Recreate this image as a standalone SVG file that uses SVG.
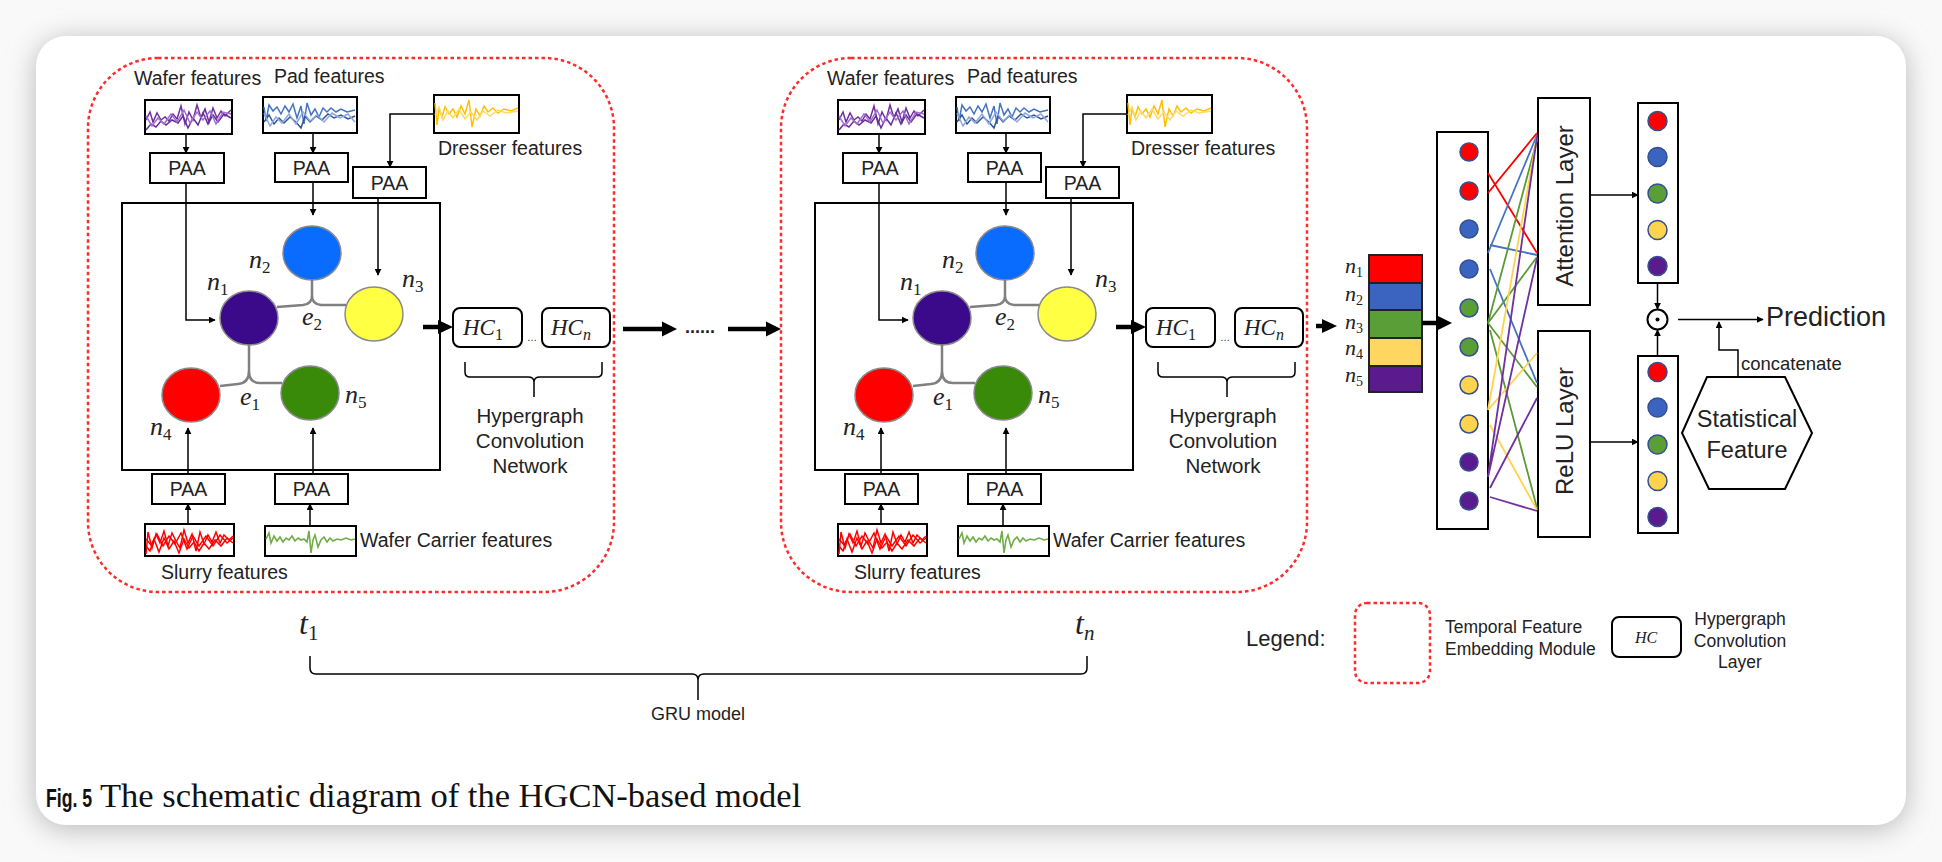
<svg xmlns="http://www.w3.org/2000/svg" width="1942" height="862" viewBox="0 0 1942 862">
<defs>
<style>
.lbl{font-family:"Liberation Sans",Arial,sans-serif;font-size:19.5px;fill:#222}
.box{fill:#fff;stroke:#000;stroke-width:2}
.frame{fill:none;stroke:#ff2a2a;stroke-width:2.5;stroke-dasharray:3.5 3}
.ln{fill:none;stroke:#000;stroke-width:1.5}
.he{fill:none;stroke:#808080;stroke-width:2.5}
.m{font-family:"Liberation Serif",serif;font-style:italic;font-size:26px;fill:#222}
.sub{font-size:17px;font-style:normal}
.subi{font-size:17px;font-style:italic}
.thk{stroke:#000;stroke-width:4.5}
.nd{stroke:#8a8a8a;stroke-width:1.5}
.dot{stroke:#34508f;stroke-width:1.5}
.cl{stroke-width:1.8;fill:none}
</style>
<marker id="ah" viewBox="0 0 10 10" refX="9" refY="5" markerWidth="7" markerHeight="7" markerUnits="userSpaceOnUse" orient="auto"><path d="M0,0 L10,5 L0,10 z" fill="#000"/></marker>
<filter id="sh" x="-5%" y="-8%" width="110%" height="116%"><feGaussianBlur stdDeviation="14"/></filter>
<g id="sp-wafer" fill="none" stroke-width="1.5">
<path stroke="#7030a0" d="M1,20 L5,12 L8,22 L12,13 L16,20 L20,17 L24,21 L28,14 L32,19 L36,6 L40,24 L44,12 L48,20 L52,5 L56,18 L60,9 L64,22 L68,8 L72,18 L76,11 L80,16 L86,10"/>
<path stroke="#6a2c9a" d="M1,30 L6,24 L11,27 L16,21 L21,25 L27,20 L33,23 L38,16 L43,28 L48,18 L53,25 L58,13 L63,24 L68,15 L73,22 L79,14 L86,18"/>
<path stroke="#a070d0" d="M1,16 L7,26 L13,18 L19,24 L26,14 L32,22 L39,10 L45,23 L52,12 L58,20 L65,11 L71,24 L78,12 L86,14"/>
</g>
<g id="sp-pad" fill="none" stroke-width="1.5">
<path stroke="#4472c4" d="M1,10 L3,24 L6,8 L10,14 L14,10 L18,17 L22,9 L26,15 L30,7 L34,21 L38,9 L41,27 L44,6 L48,18 L52,12 L56,20 L60,11 L64,15 L68,11 L73,15 L78,12 L84,15 L92,13"/>
<path stroke="#2f5597" d="M1,25 L6,18 L11,27 L16,21 L21,26 L27,20 L33,25 L38,31 L42,19 L47,25 L53,19 L59,23 L65,17 L71,21 L78,18 L85,22 L92,19"/>
<path stroke="#8fa9dc" d="M1,16 L7,29 L13,20 L19,26 L26,17 L33,27 L40,15 L47,24 L54,18 L61,25 L69,16 L77,21 L85,17 L92,25"/>
</g>
<g id="sp-dresser" fill="none" stroke-width="1.5">
<path stroke="#ffc000" d="M1,8 L3,30 L5,14 L8,22 L11,12 L15,19 L19,14 L23,22 L27,11 L31,19 L35,5 L38,32 L42,14 L46,21 L50,11 L54,17 L59,13 L64,18 L70,14 L77,16 L84,13"/>
<path stroke="#ffd966" d="M1,20 L5,12 L9,25 L14,16 L19,23 L25,14 L31,24 L37,17 L43,25 L49,16 L56,21 L64,15 L72,18 L84,16"/>
</g>
<g id="sp-slurry" fill="none" stroke="#ff0000" stroke-width="1.5">
<path d="M1,30 L3,8 L7,24 L11,10 L15,19 L19,7 L23,22 L27,9 L31,17 L35,24 L39,6 L43,19 L47,10 L51,27 L55,8 L59,20 L63,11 L67,18 L71,8 L75,19 L79,11 L84,16 L88,12"/>
<path d="M1,22 L5,27 L9,15 L14,28 L19,14 L24,25 L29,17 L34,29 L39,15 L44,24 L49,18 L54,27 L59,19 L64,25 L70,16 L76,22 L82,14 L88,19"/>
<path d="M1,15 L6,21 L12,10 L18,22 L24,12 L30,20 L36,9 L42,25 L48,12 L54,22 L61,12 L68,22 L75,11 L82,19 L88,14"/>
</g>
<g id="sp-carrier" fill="none" stroke="#70ad47" stroke-width="1.6">
<path d="M1,13 L4,7 L6,17 L9,10 L12,15 L15,11 L18,16 L21,12 L24,14 L27,10 L30,15 L33,12 L36,14 L39,13 L42,16 L44,5 L46,27 L48,14 L50,9 L53,21 L56,14 L59,11 L62,16 L65,12 L68,15 L72,13 L76,14 L81,12 L86,14 L90,13"/>
</g>
</defs>

<rect x="0" y="0" width="1942" height="862" fill="#f9f9f9"/>
<rect x="36" y="40" width="1870" height="789" rx="30" fill="#b8b8b8" filter="url(#sh)"/>
<rect id="card" x="36" y="36" width="1870" height="789" rx="30" fill="#fff"/>

<!-- ===== Module 1 ===== -->
<g id="module1">
<rect id="frame1" class="frame" x="88" y="58" width="526" height="534" rx="70" ry="70"/>
<g id="m1-main"><rect class="box" x="122" y="203" width="318" height="267" style="fill:none"/></g>
<g id="m1-wafer"><rect class="box" x="145" y="100" width="87" height="34"/><use href="#sp-wafer" x="145" y="100"/><text class="lbl" x="134" y="85">Wafer features</text></g>
<g id="m1-pad"><rect class="box" x="263" y="97" width="94" height="36"/><use href="#sp-pad" x="263" y="97"/><text class="lbl" x="274" y="83">Pad features</text></g>
<g id="m1-dresser"><rect class="box" x="434" y="95" width="85" height="38"/><use href="#sp-dresser" x="434" y="95"/><text class="lbl" x="438" y="155">Dresser features</text></g>
<g id="m1-slurry"><rect class="box" x="145" y="524" width="89" height="32"/><use href="#sp-slurry" x="145" y="524"/><text class="lbl" x="161" y="579">Slurry features</text></g>
<g id="m1-carrier"><rect class="box" x="265" y="526" width="91" height="30"/><use href="#sp-carrier" x="265" y="526"/><text class="lbl" x="360" y="547">Wafer Carrier features</text></g>
<g id="m1-paa1"><rect class="box" x="150" y="153" width="74" height="30"/><text class="lbl" x="187" y="175" text-anchor="middle">PAA</text></g>
<g id="m1-paa2"><rect class="box" x="275" y="153" width="73" height="29"/><text class="lbl" x="311.5" y="175" text-anchor="middle">PAA</text></g>
<g id="m1-paa3"><rect class="box" x="353" y="167" width="73" height="31"/><text class="lbl" x="389.5" y="190" text-anchor="middle">PAA</text></g>
<g id="m1-paa4"><rect class="box" x="152" y="474" width="73" height="30"/><text class="lbl" x="188.5" y="496" text-anchor="middle">PAA</text></g>
<g id="m1-paa5"><rect class="box" x="275" y="474" width="73" height="30"/><text class="lbl" x="311.5" y="496" text-anchor="middle">PAA</text></g>
<g id="m1-n1"><ellipse class="nd" cx="249" cy="318" rx="29" ry="27" fill="#3a0a8a"/><text class="m" x="207" y="290">n<tspan class="sub" dy="5">1</tspan></text></g>
<g id="m1-n2"><ellipse class="nd" cx="312" cy="253" rx="29" ry="27" fill="#0a6cff"/><text class="m" x="249" y="268">n<tspan class="sub" dy="5">2</tspan></text></g>
<g id="m1-n3"><ellipse class="nd" cx="374" cy="314" rx="29" ry="27" fill="#ffff44" stroke="#b5b5b5"/><text class="m" x="402" y="287">n<tspan class="sub" dy="5">3</tspan></text></g>
<g id="m1-n4"><ellipse class="nd" cx="191" cy="395" rx="29" ry="27" fill="#ff0000"/><text class="m" x="150" y="435">n<tspan class="sub" dy="5">4</tspan></text></g>
<g id="m1-n5"><ellipse class="nd" cx="310" cy="393" rx="29" ry="27" fill="#3a8a0a"/><text class="m" x="345" y="403">n<tspan class="sub" dy="5">5</tspan></text></g>
<g id="m1-e2"><text class="m" x="302" y="325">e<tspan class="sub" dy="5">2</tspan></text></g>
<g id="m1-e1"><text class="m" x="240" y="405">e<tspan class="sub" dy="5">1</tspan></text></g>
<g id="m1-hc1"><rect class="box" x="453" y="308" width="69" height="39" rx="7"/><text class="m" x="463" y="335" style="font-size:23px">HC<tspan class="sub" dy="5" style="font-size:16px">1</tspan></text></g>
<g id="m1-hcn"><rect class="box" x="542" y="308" width="68" height="39" rx="7"/><text class="m" x="551" y="335" style="font-size:23px">HC<tspan class="subi" dy="5" style="font-size:16px">n</tspan></text></g>
<text class="lbl" x="532" y="341" text-anchor="middle" style="font-size:10px">…</text>
<g id="m1-hcn-label"><text class="lbl" text-anchor="middle" style="font-size:20.5px"><tspan x="530" y="423">Hypergraph</tspan><tspan x="530" y="448">Convolution</tspan><tspan x="530" y="473">Network</tspan></text></g>
</g>

<!-- ===== Module 2 ===== -->
<g id="module2">
<rect id="frame2" class="frame" x="781" y="58" width="526" height="534" rx="70" ry="70"/>
<g id="m2-main"><rect class="box" x="815" y="203" width="318" height="267" style="fill:none"/></g>
<g id="m2-wafer"><rect class="box" x="838" y="100" width="87" height="34"/><use href="#sp-wafer" x="838" y="100"/><text class="lbl" x="827" y="85">Wafer features</text></g>
<g id="m2-pad"><rect class="box" x="956" y="97" width="94" height="36"/><use href="#sp-pad" x="956" y="97"/><text class="lbl" x="967" y="83">Pad features</text></g>
<g id="m2-dresser"><rect class="box" x="1127" y="95" width="85" height="38"/><use href="#sp-dresser" x="1127" y="95"/><text class="lbl" x="1131" y="155">Dresser features</text></g>
<g id="m2-slurry"><rect class="box" x="838" y="524" width="89" height="32"/><use href="#sp-slurry" x="838" y="524"/><text class="lbl" x="854" y="579">Slurry features</text></g>
<g id="m2-carrier"><rect class="box" x="958" y="526" width="91" height="30"/><use href="#sp-carrier" x="958" y="526"/><text class="lbl" x="1053" y="547">Wafer Carrier features</text></g>
<g id="m2-paa1"><rect class="box" x="843" y="153" width="74" height="30"/><text class="lbl" x="880" y="175" text-anchor="middle">PAA</text></g>
<g id="m2-paa2"><rect class="box" x="968" y="153" width="73" height="29"/><text class="lbl" x="1004.5" y="175" text-anchor="middle">PAA</text></g>
<g id="m2-paa3"><rect class="box" x="1046" y="167" width="73" height="31"/><text class="lbl" x="1082.5" y="190" text-anchor="middle">PAA</text></g>
<g id="m2-paa4"><rect class="box" x="845" y="474" width="73" height="30"/><text class="lbl" x="881.5" y="496" text-anchor="middle">PAA</text></g>
<g id="m2-paa5"><rect class="box" x="968" y="474" width="73" height="30"/><text class="lbl" x="1004.5" y="496" text-anchor="middle">PAA</text></g>
<g id="m2-n1"><ellipse class="nd" cx="942" cy="318" rx="29" ry="27" fill="#3a0a8a"/><text class="m" x="900" y="290">n<tspan class="sub" dy="5">1</tspan></text></g>
<g id="m2-n2"><ellipse class="nd" cx="1005" cy="253" rx="29" ry="27" fill="#0a6cff"/><text class="m" x="942" y="268">n<tspan class="sub" dy="5">2</tspan></text></g>
<g id="m2-n3"><ellipse class="nd" cx="1067" cy="314" rx="29" ry="27" fill="#ffff44" stroke="#b5b5b5"/><text class="m" x="1095" y="287">n<tspan class="sub" dy="5">3</tspan></text></g>
<g id="m2-n4"><ellipse class="nd" cx="884" cy="395" rx="29" ry="27" fill="#ff0000"/><text class="m" x="843" y="435">n<tspan class="sub" dy="5">4</tspan></text></g>
<g id="m2-n5"><ellipse class="nd" cx="1003" cy="393" rx="29" ry="27" fill="#3a8a0a"/><text class="m" x="1038" y="403">n<tspan class="sub" dy="5">5</tspan></text></g>
<g id="m2-e2"><text class="m" x="995" y="325">e<tspan class="sub" dy="5">2</tspan></text></g>
<g id="m2-e1"><text class="m" x="933" y="405">e<tspan class="sub" dy="5">1</tspan></text></g>
<g id="m2-hc1"><rect class="box" x="1146" y="308" width="69" height="39" rx="7"/><text class="m" x="1156" y="335" style="font-size:23px">HC<tspan class="sub" dy="5" style="font-size:16px">1</tspan></text></g>
<g id="m2-hcn"><rect class="box" x="1235" y="308" width="68" height="39" rx="7"/><text class="m" x="1244" y="335" style="font-size:23px">HC<tspan class="subi" dy="5" style="font-size:16px">n</tspan></text></g>
<text class="lbl" x="1225" y="341" text-anchor="middle" style="font-size:10px">…</text>
<g id="m2-hcn-label"><text class="lbl" text-anchor="middle" style="font-size:20.5px"><tspan x="1223" y="423">Hypergraph</tspan><tspan x="1223" y="448">Convolution</tspan><tspan x="1223" y="473">Network</tspan></text></g>
</g>

<g id="between-dots"><text class="lbl" x="685" y="333" style="font-size:18px;font-weight:bold">......</text></g>

<!-- ===== Right part ===== -->
<g id="input-vector">
<rect x="1369" y="255" width="53" height="28" fill="#ff0000" stroke="#222" stroke-width="2"/>
<rect x="1369" y="283" width="53" height="27" fill="#3b64c0" stroke="#222" stroke-width="2"/>
<rect x="1369" y="310" width="53" height="28" fill="#5a9e38" stroke="#222" stroke-width="2"/>
<rect x="1369" y="338" width="53" height="28" fill="#ffd660" stroke="#222" stroke-width="2"/>
<rect x="1369" y="366" width="53" height="26" fill="#5b1a8e" stroke="#222" stroke-width="2"/>
<text class="m" x="1345" y="273" style="font-size:22px">n<tspan class="sub" dy="4" style="font-size:14px">1</tspan></text>
<text class="m" x="1345" y="301" style="font-size:22px">n<tspan class="sub" dy="4" style="font-size:14px">2</tspan></text>
<text class="m" x="1345" y="329" style="font-size:22px">n<tspan class="sub" dy="4" style="font-size:14px">3</tspan></text>
<text class="m" x="1345" y="355" style="font-size:22px">n<tspan class="sub" dy="4" style="font-size:14px">4</tspan></text>
<text class="m" x="1345" y="382" style="font-size:22px">n<tspan class="sub" dy="4" style="font-size:14px">5</tspan></text>
</g>
<g id="hidden-column">
<rect class="box" x="1437" y="132" width="51" height="397"/>
<circle class="dot" cx="1469" cy="152" r="9" fill="#ff0000"/>
<circle class="dot" cx="1469" cy="191" r="9" fill="#ff0000"/>
<circle class="dot" cx="1469" cy="229" r="9" fill="#3b64c0"/>
<circle class="dot" cx="1469" cy="269" r="9" fill="#3b64c0"/>
<circle class="dot" cx="1469" cy="308" r="9" fill="#5a9e38"/>
<circle class="dot" cx="1469" cy="347" r="9" fill="#5a9e38"/>
<circle class="dot" cx="1469" cy="385" r="9" fill="#ffd34d"/>
<circle class="dot" cx="1469" cy="424" r="9" fill="#ffd34d"/>
<circle class="dot" cx="1469" cy="462" r="9" fill="#5b1a8e"/>
<circle class="dot" cx="1469" cy="501" r="9" fill="#5b1a8e"/>
</g>
<g id="attention-layer"><rect class="box" x="1538" y="98" width="52" height="207"/><text class="lbl" transform="translate(1573,206) rotate(-90)" text-anchor="middle" style="font-size:24px">Attention Layer</text></g>
<g id="relu-layer"><rect class="box" x="1538" y="331" width="52" height="206"/><text class="lbl" transform="translate(1573,431) rotate(-90)" text-anchor="middle" style="font-size:24px">ReLU Layer</text></g>
<g id="att-output">
<rect class="box" x="1638" y="103" width="40" height="180"/>
<circle class="dot" cx="1657.5" cy="121" r="9.5" fill="#ff0000"/>
<circle class="dot" cx="1657.5" cy="157" r="9.5" fill="#3b64c0"/>
<circle class="dot" cx="1657.5" cy="193.5" r="9.5" fill="#5a9e38"/>
<circle class="dot" cx="1657.5" cy="230" r="9.5" fill="#ffd34d"/>
<circle class="dot" cx="1657.5" cy="266" r="9.5" fill="#5b1a8e"/>
</g>
<g id="relu-output">
<rect class="box" x="1638" y="356" width="40" height="177"/>
<circle class="dot" cx="1657.5" cy="372" r="9.5" fill="#ff0000"/>
<circle class="dot" cx="1657.5" cy="407.5" r="9.5" fill="#3b64c0"/>
<circle class="dot" cx="1657.5" cy="444.5" r="9.5" fill="#5a9e38"/>
<circle class="dot" cx="1657.5" cy="481" r="9.5" fill="#ffd34d"/>
<circle class="dot" cx="1657.5" cy="517" r="9.5" fill="#5b1a8e"/>
</g>
<g id="odot"><circle cx="1657.5" cy="319.5" r="10" fill="#fff" stroke="#000" stroke-width="2"/><circle cx="1657.5" cy="319.5" r="2" fill="#000"/></g>
<g id="prediction"><text class="lbl" x="1766" y="326" style="font-size:27px">Prediction</text></g>
<g id="statistical-feature"><polygon points="1707,377 1785,377 1812,433 1785,489 1709,489 1682,433" fill="#fff" stroke="#000" stroke-width="2"/><text class="lbl" text-anchor="middle" style="font-size:23.5px"><tspan x="1747" y="427">Statistical</tspan><tspan x="1747" y="458">Feature</tspan></text></g>
<g id="concat-label"><text class="lbl" x="1741" y="370" style="font-size:18.5px">concatenate</text></g>

<!-- ===== Legend ===== -->
<g id="legend">
<text class="lbl" x="1246" y="646" style="font-size:22px">Legend:</text>
<rect class="frame" x="1355" y="603" width="75" height="80" rx="12"/>
<text class="lbl" style="font-size:17.5px"><tspan x="1445" y="633">Temporal Feature</tspan><tspan x="1445" y="655">Embedding Module</tspan></text>
<rect class="box" x="1612" y="617" width="69" height="40" rx="7"/>
<text class="m" x="1646" y="643" text-anchor="middle" style="font-size:16px">HC</text>
<text class="lbl" text-anchor="middle" style="font-size:17.5px"><tspan x="1740" y="625">Hypergraph</tspan><tspan x="1740" y="647">Convolution</tspan><tspan x="1740" y="668">Layer</tspan></text>
</g>

<!-- ===== time axis ===== -->
<g id="t1"><text class="m" x="299" y="634" style="font-size:32px">t<tspan class="sub" dy="6" style="font-size:21px">1</tspan></text></g>
<g id="tn"><text class="m" x="1075" y="634" style="font-size:32px">t<tspan class="subi" dy="6" style="font-size:21px">n</tspan></text></g>
<g id="gru-label"><text class="lbl" x="698" y="720" text-anchor="middle" style="font-size:18px">GRU model</text></g>

<g id="caption">
<text transform="translate(46,807) scale(0.68,1)" style="font-family:'Liberation Sans',Arial,sans-serif;font-weight:bold;font-size:26px;fill:#111">Fig. 5</text>
<text x="100" y="807" style="font-family:'Liberation Serif','Times New Roman',serif;font-size:34.5px;fill:#111">The schematic diagram of the HGCN-based model</text>
</g>

<!-- ===== Connectors ===== -->
<g id="connectors">
<path class="ln" d="M186,134 L186,153" marker-end="url(#ah)"/>
<path class="ln" d="M313,133 L313,153" marker-end="url(#ah)"/>
<path class="ln" d="M434,114 L390,114 L390,167" marker-end="url(#ah)"/>
<path class="ln" d="M186,183 L186,320 L215,320" marker-end="url(#ah)"/>
<path class="ln" d="M313,182 L313,215" marker-end="url(#ah)"/>
<path class="ln" d="M378,198 L378,275" marker-end="url(#ah)"/>
<path class="ln" d="M188,474 L188,428" marker-end="url(#ah)"/>
<path class="ln" d="M313,474 L313,428" marker-end="url(#ah)"/>
<path class="ln" d="M188,524 L188,504" marker-end="url(#ah)"/>
<path class="ln" d="M310,526 L310,504" marker-end="url(#ah)"/>
<path class="he" d="M277,307 L303,305 Q312,304 312,296 L312,280 M346,305 L321,305 Q312,304 312,296"/>
<path class="he" d="M249,345 L249,371 Q249,383 238,384 L220,386 M249,371 Q249,383 260,383 L282,383"/>
<path class="thk" d="M423,327 L440,327"/><polygon points="438,320 453,327 438,334"/>
<path class="ln" d="M465,362 L465,372 Q465,377 470,377 L528,377 Q534,377 534,382 L534,397 M534,382 Q534,377 540,377 L597,377 Q602,377 602,372 L602,362"/>
<path class="thk" d="M623,329 L664,329"/><polygon points="662,321.5 677,329 662,336.5"/>
<path class="thk" d="M728,329 L768,329"/><polygon points="766,321.5 781,329 766,336.5"/>
<path class="ln" d="M879,134 L879,153" marker-end="url(#ah)"/>
<path class="ln" d="M1006,133 L1006,153" marker-end="url(#ah)"/>
<path class="ln" d="M1127,114 L1083,114 L1083,167" marker-end="url(#ah)"/>
<path class="ln" d="M879,183 L879,320 L908,320" marker-end="url(#ah)"/>
<path class="ln" d="M1006,182 L1006,215" marker-end="url(#ah)"/>
<path class="ln" d="M1071,198 L1071,275" marker-end="url(#ah)"/>
<path class="ln" d="M881,474 L881,428" marker-end="url(#ah)"/>
<path class="ln" d="M1006,474 L1006,428" marker-end="url(#ah)"/>
<path class="ln" d="M881,524 L881,504" marker-end="url(#ah)"/>
<path class="ln" d="M1003,526 L1003,504" marker-end="url(#ah)"/>
<path class="he" d="M970,307 L996,305 Q1005,304 1005,296 L1005,280 M1039,305 L1014,305 Q1005,304 1005,296"/>
<path class="he" d="M942,345 L942,371 Q942,383 931,384 L913,386 M942,371 Q942,383 953,383 L975,383"/>
<path class="thk" d="M1116,327 L1133,327"/><polygon points="1131,320 1146,327 1131,334"/>
<path class="ln" d="M1158,362 L1158,372 Q1158,377 1163,377 L1221,377 Q1227,377 1227,382 L1227,397 M1227,382 Q1227,377 1233,377 L1290,377 Q1295,377 1295,372 L1295,362"/>
<path class="thk" d="M1316,326 L1324,326"/><polygon points="1322,319 1337,326 1322,333"/>
<path class="thk" d="M1422,323 L1438,323"/><polygon points="1436,315 1452,323 1436,331"/>
<path class="cl" stroke="#ff0000" d="M1488,173 L1537,253 M1488,193 L1537,133"/>
<path class="cl" stroke="#4472c4" d="M1488,253 L1537,135 M1490,245 L1537,255 M1490,269 L1537,383"/>
<path class="cl" stroke="#5b9b35" d="M1488,323 L1537,140 M1488,323 L1537,257 M1488,323 L1537,387 M1490,330 L1537,508"/>
<path class="cl" stroke="#ffd34d" d="M1488,410 L1537,137 M1488,410 L1537,353 M1490,425 L1537,510"/>
<path class="cl" stroke="#7030a0" d="M1488,477 L1537,137 M1488,477 L1537,258 M1490,488 L1537,398 M1490,497 L1537,511"/>
<path class="ln" d="M1590,195 L1638,195" marker-end="url(#ah)"/>
<path class="ln" d="M1590,442 L1638,442" marker-end="url(#ah)"/>
<path class="ln" d="M1657.5,283 L1657.5,309" marker-end="url(#ah)"/>
<path class="ln" d="M1657.5,356 L1657.5,330" marker-end="url(#ah)"/>
<path class="ln" d="M1678,319.5 L1763,319.5" marker-end="url(#ah)"/>
<path class="ln" d="M1738,377 L1738,350 L1719,350 L1719,322" marker-end="url(#ah)"/>
<path class="ln" d="M310,656 L310,668 Q310,674 316,674 L692,674 Q698,674 698,680 L698,700 M698,680 Q698,674 704,674 L1081,674 Q1087,674 1087,668 L1087,656"/>
</g>
</svg>
